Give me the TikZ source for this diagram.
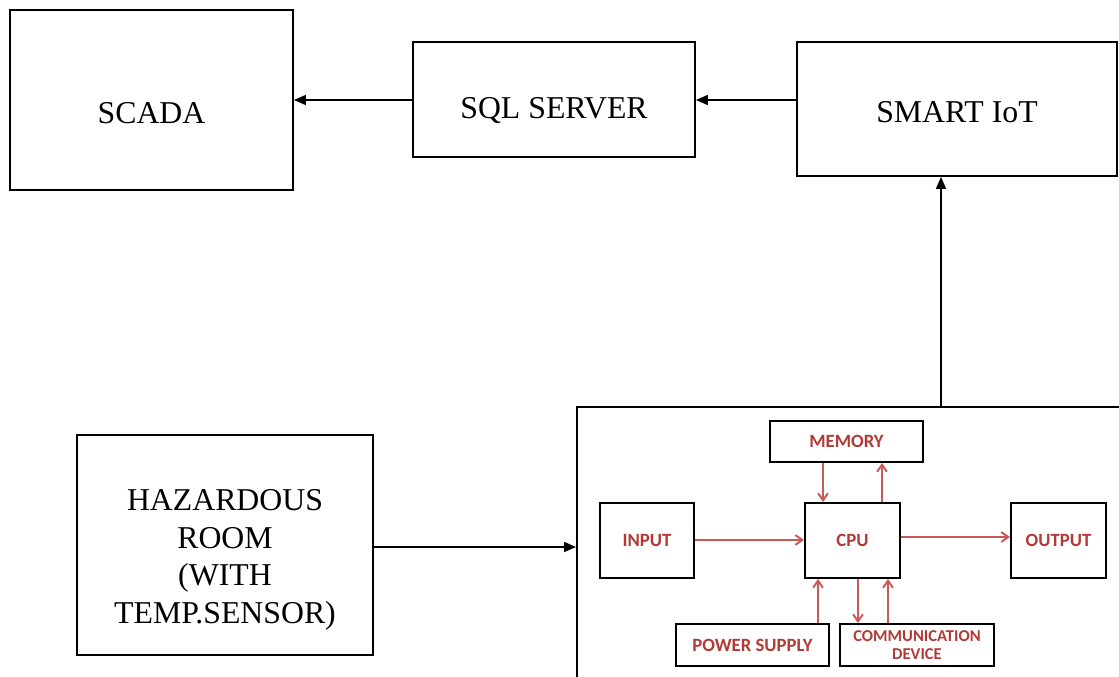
\documentclass[tikz,border=0pt]{standalone}
\usepackage{fontspec}
\setmainfont{Liberation Serif}
\newfontfamily\chipfont{Carlito}
\usepackage{xcolor}
\usepackage{tikz}
\usetikzlibrary{arrows.meta,positioning,calc}
\definecolor{chipred}{HTML}{C85A57}
\definecolor{chiptext}{HTML}{B23A36}

\begin{document}
\begin{tikzpicture}[x=0.025cm, y=-0.025cm,
  every node/.style={font=\fontsize{22.6}{26.7}\selectfont},
  bloc/.style={draw=black, line width=1.2pt, align=center, inner sep=0pt},
  puce/.style={draw=black, line width=1.4pt, inner sep=0pt, align=center,
    text=chiptext, font=\chipfont\bfseries\fontsize{13.3}{14}\selectfont},
  fleche/.style={line width=1.2pt, -{Triangle[length=8.5pt,width=7pt]}},
  rfleche/.style={draw=chipred, line width=1.4pt, -{Straight Barb[length=5pt,width=7pt,line width=1.4pt]}}]
  \clip (0,0) rectangle (1119,677);
  % rangee du haut
  \node[bloc, minimum width=7.075cm, minimum height=4.5cm, text height=33pt, text depth=0pt] (scada) at (151.5,100) {SCADA};
  \node[bloc, minimum width=7.05cm, minimum height=2.875cm, text height=27pt, text depth=0pt] (sql) at (554,99.5) {SQL SERVER};
  \node[bloc, minimum width=8cm, minimum height=3.35cm, text height=19pt, text depth=0pt] (smart) at (957,109) {SMART IoT};
  \draw[fleche] (sql.west |- 0,100) -- (scada.east |- 0,100);
  \draw[fleche] (smart.west |- 0,100) -- (sql.east |- 0,100);
  % salle + carte
  \node[bloc, minimum width=7.4cm, minimum height=5.5cm,
    label={[align=center, yshift=-10.7pt]center:HAZARDOUS\\ROOM\\(WITH\\TEMP.SENSOR)}] (salle) at (225,545) {};
  \node[bloc, minimum width=15.575cm, minimum height=8.825cm] (carte) at (888.5,583.5) {};
  \draw[fleche] (salle.east |- 0,547) -- (carte.west |- 0,547);
  \draw[fleche] (carte.north -| 941,0) -- (smart.south -| 941,0);
  % schema interne
  \node[puce, minimum width=3.825cm, minimum height=1.025cm] (memory) at (846.5,441.5) {MEMORY};
  \node[puce, minimum width=2.35cm, minimum height=1.875cm] (input) at (647,540.5) {INPUT};
  \node[puce, minimum width=2.375cm, minimum height=1.875cm] (cpu) at (852.5,540.5) {CPU};
  \node[puce, minimum width=2.375cm, minimum height=1.875cm] (output) at (1058.5,540.5) {OUTPUT};
  \node[puce, minimum width=3.825cm, minimum height=1.05cm] (power) at (752.5,645) {POWER SUPPLY};
  \node[puce, minimum width=3.85cm, minimum height=1.05cm, font=\chipfont\bfseries\fontsize{11.8}{13}\selectfont] (comm) at (917,645) {COMMUNICATION\\DEVICE};
  \draw[rfleche] (input.east |- 0,540) -- (cpu.west |- 0,540);
  \draw[rfleche] (cpu.east |- 0,537) -- (output.west |- 0,537);
  \draw[rfleche] (memory.south -| 823,0) -- (cpu.north -| 823,0);
  \draw[rfleche] (cpu.north -| 882,0) -- (memory.south -| 882,0);
  \draw[rfleche] (power.north -| 818,0) -- (cpu.south -| 818,0);
  \draw[rfleche] (cpu.south -| 858,0) -- (comm.north -| 858,0);
  \draw[rfleche] (comm.north -| 888,0) -- (cpu.south -| 888,0);
\end{tikzpicture}
\end{document}
